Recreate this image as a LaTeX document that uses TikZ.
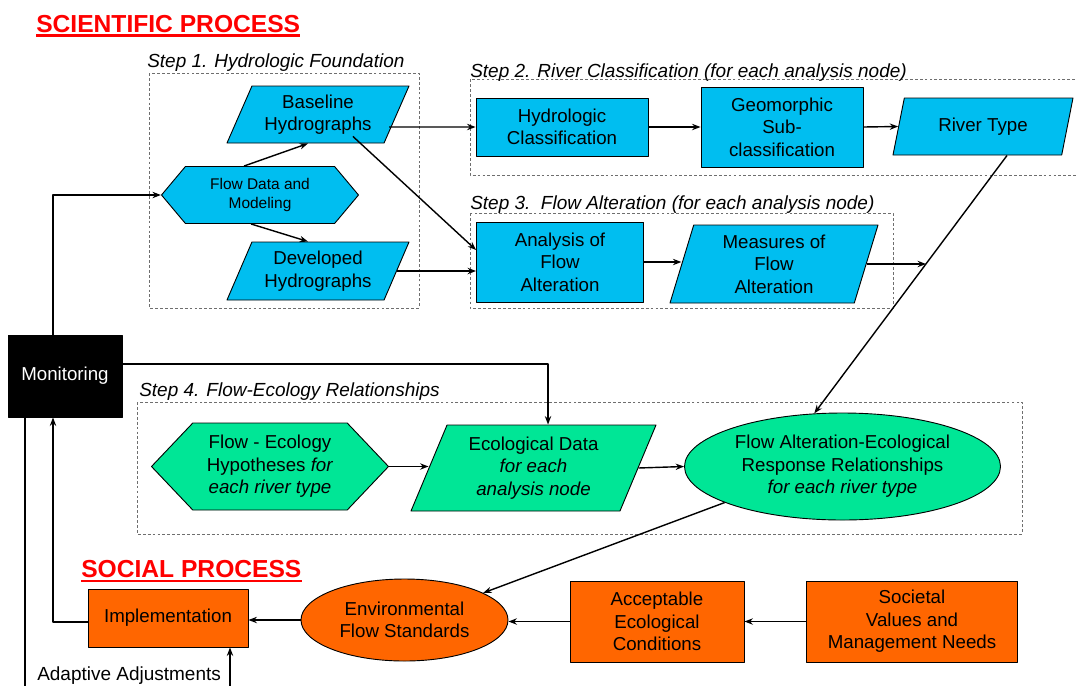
\documentclass[tikz,border=0pt]{standalone}
\usepackage{fontspec}
\setmainfont{Liberation Sans}
\usetikzlibrary{shapes.geometric,shapes.symbols,arrows.meta,calc,positioning}
\definecolor{skyfill}{RGB}{0,190,240}
\definecolor{mintfill}{RGB}{0,230,150}
\definecolor{orangefill}{RGB}{255,102,0}
\definecolor{stepgray}{RGB}{110,110,110}
\newcommand{\pxu}{0.025cm}
\tikzset{
  txt/.style={font=\fontsize{13.3}{16}\selectfont, align=center, inner sep=0pt},
  smalltxt/.style={font=\fontsize{11}{14}\selectfont},
  box/.style={txt, rectangle, draw=black, line width=0.65pt},
  para/.style={txt, trapezium, trapezium stretches body, draw=black, line width=0.65pt},
  hexa/.style={txt, signal, signal to=west and east, draw=black, line width=0.65pt},
  oval/.style={txt, ellipse, draw=black, line width=0.65pt},
  stepbox/.style={draw=stepgray, line width=0.6pt, dash pattern=on 2pt off 1.5pt},
  steplabel/.style={font=\fontsize{13.5}{16}\selectfont\itshape, anchor=base west, inner sep=0pt},
  title/.style={font=\fontsize{17.5}{20}\selectfont\bfseries, text=red, anchor=base west, inner sep=0pt},
  arr/.style={->, line width=1pt}
}
\begin{document}
\begin{tikzpicture}[x=0.025cm,y=-0.025cm,>={Stealth[length=6pt,width=4.5pt]},line join=round]
\useasboundingbox (0,0) rectangle (1077,685);
% step frames
\draw[stepbox] (149,73) rectangle (419,308);
\draw[stepbox] (1080,79) -- (470,79) -- (470,175) -- (1080,175);
\draw[stepbox] (470,213) rectangle (893,308);
\draw[stepbox] (137,402) rectangle (1022,534);
% titles
\node[title] (sci) at (36,32) {SCIENTIFIC PROCESS};
\draw[red, line width=2pt] ($(sci.base west)+(0,3.5)$) -- ($(sci.base east)+(0,3.5)$);
\node[title] (soc) at (81,577) {SOCIAL PROCESS};
\draw[red, line width=2pt] ($(soc.base west)+(0,4)$) -- ($(soc.base east)+(0,4)$);
\node[steplabel] (s1) at (147,67) {Step 1. Hydrologic Foundation};
\node[steplabel] (s2) at (470,77) {Step 2. River Classification (for each analysis node)};
\node[steplabel] (s3) at (470,209) {Step 3.\ \ Flow Alteration (for each analysis node)};
\node[steplabel] (s4) at (139,396) {Step 4. Flow-Ecology Relationships};
% step 1
\node[hexa, smalltxt, fill=skyfill, signal pointer angle=100, minimum width=197*\pxu, minimum height=57*\pxu] (flowdata) at (260,195) {Flow Data and\\Modeling};
\node[para, fill=skyfill, trapezium left angle=58, trapezium right angle=122, minimum width=182*\pxu, minimum height=57*\pxu] (baseline) at (318,114.5) {Baseline\\Hydrographs};
\node[para, fill=skyfill, trapezium left angle=58, trapezium right angle=122, minimum width=182*\pxu, minimum height=58*\pxu] (developed) at (318,271) {Developed\\Hydrographs};
% step 2
\node[box, fill=skyfill, minimum width=172*\pxu, minimum height=58*\pxu] (hydclass) at (562,127) {Hydrologic\\Classification};
\node[box, fill=skyfill, minimum width=162*\pxu, minimum height=80*\pxu] (geomorph) at (782,127) {Geomorphic\\Sub-\\classification};
\node[para, fill=skyfill, trapezium left angle=57, trapezium right angle=123, minimum width=180*\pxu, minimum height=57*\pxu] (rivertype) at (983,126.5) {River Type};
% step 3
\node[box, fill=skyfill, minimum width=167*\pxu, minimum height=80*\pxu] (analysis) at (560,262) {Analysis of\\Flow\\Alteration};
\node[para, fill=skyfill, trapezium left angle=68, trapezium right angle=112, minimum width=208*\pxu, minimum height=78*\pxu] (measures) at (774,264) {Measures of\\Flow\\Alteration};
% monitoring
\node[box, fill=black, text=white, minimum width=114*\pxu, minimum height=82*\pxu] (monitoring) at (65,376) {Monitoring};
% step 4
\node[hexa, fill=mintfill, signal pointer angle=93, minimum width=237*\pxu, minimum height=87*\pxu] (hypo) at (270,466.5) {Flow - Ecology\\Hypotheses \textit{for}\\\textit{each river type}};
\node[para, fill=mintfill, trapezium left angle=60, trapezium right angle=120, minimum width=245*\pxu, minimum height=86*\pxu] (ecodata) at (533.5,468) {Ecological Data\\\textit{for each}\\\textit{analysis node}};
\node[oval, fill=mintfill, minimum width=316*\pxu, minimum height=107*\pxu] (relation) at (842.5,466.5) {Flow Alteration-Ecological\\Response Relationships\\\textit{for each river type}};
% social process
\node[oval, fill=orangefill, minimum width=207*\pxu, minimum height=82*\pxu] (envflow) at (404.5,620) {Environmental\\Flow Standards};
\node[box, fill=orangefill, minimum width=160*\pxu, minimum height=58*\pxu] (implement) at (168,618) {Implementation};
\node[box, fill=orangefill, minimum width=174*\pxu, minimum height=81*\pxu] (accept) at (657,621.5) {Acceptable\\Ecological\\Conditions};
\node[box, fill=orangefill, minimum width=211*\pxu, minimum height=81*\pxu] (societal) at (912,621.5) {Societal\\Values and\\Management Needs};
\node[txt, anchor=base west, font=\fontsize{13.5}{16}\selectfont] (adapt) at (37,680) {Adaptive Adjustments};
% connectors
\draw[arr] ($(flowdata.north)+(-16,0)$) -- ($(baseline.south)+(-10,0)$);
\draw[arr] ($(flowdata.south)+(-9,0)$) -- ($(developed.north)+(-10,0)$);
\draw[arr] ($(baseline.east)+(-8,12.5)$) -- (hydclass.west);
\draw[arr] ($(baseline.south east)+(6,-7)$) -- ($(analysis.west)+(0,-12)$);
\draw[arr] (developed.east) -- (developed.east -| analysis.west);
\draw[arr] (hydclass.east) -- (geomorph.west);
\draw[arr] (geomorph.east) -- (rivertype.west);
\draw[arr] (analysis.east) -- (analysis.east -| measures.west);
\path ($(rivertype.south)+(24,0)$) -- (relation.118) coordinate[pos=0.42] (jn);
\draw[arr] ($(rivertype.south)+(24,0)$) -- (relation.118);
\draw[arr] (measures.east) -- (measures.east -| jn);
\draw[arr] (hypo.east) -- (hypo.east -| ecodata.west);
\draw[arr] (ecodata.east) -- (relation.west);
\draw[arr] (relation.197) -- (envflow.19);
\draw[arr] (envflow.west) -- (envflow.west -| implement.east);
\draw[arr] (accept.west) -- (accept.west -| envflow.east);
\draw[arr] (societal.west) -- (accept.east);
\draw[arr] ($(monitoring.north)+(-12,0)$) |- (flowdata.west);
\draw[arr] ($(monitoring.east)+(0,-12)$) -| ($(ecodata.north)+(14.5,0)$);
\draw[arr] ($(implement.west)+(0,4)$) -| ($(monitoring.south)+(-12,0)$);
\coordinate (low) at (0,695);
\draw[arr] ($(monitoring.south)+(-40,0)$) |- ($(low)+(230,0)$) -- ($(implement.south)+(62,0)$);
\end{tikzpicture}
\end{document}
